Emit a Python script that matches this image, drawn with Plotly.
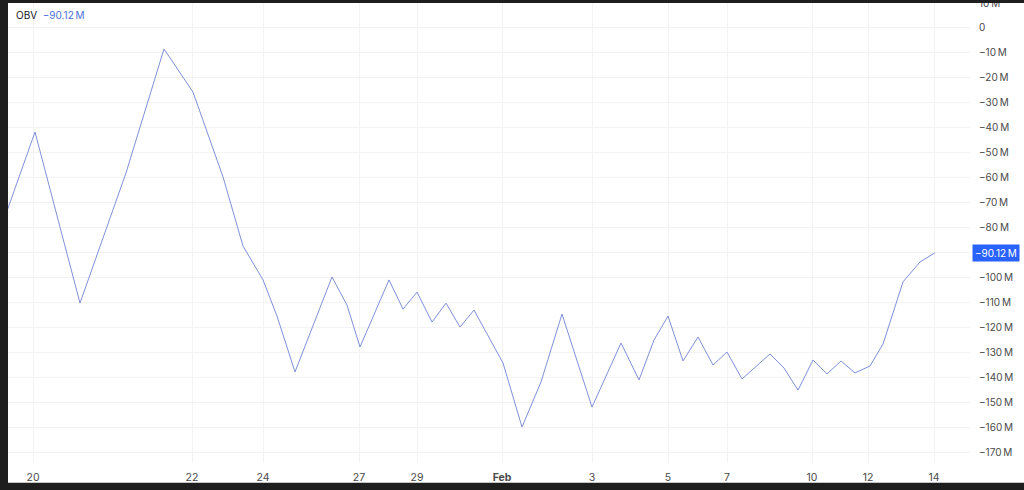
import plotly.graph_objects as go

# OBV series, bar position (session units) and value in millions
bar_pos = [-2, 0, 3.15, 6.37, 9.03, 11.06, 13.16, 14.56, 15.96, 16.94, 18.2,
           20.79, 21.84, 22.75, 24.78, 25.76, 26.74, 27.79, 28.77, 29.75, 30.73,
           32.76, 34.09, 35.42, 36.89, 38.99, 41.02, 42.28, 43.33, 44.31, 45.36,
           46.41, 47.46, 48.44, 49.49, 51.45, 52.43, 53.41, 54.46, 55.44, 56.42,
           57.4, 58.45, 59.36, 60.76, 61.95, 63]
obv_m = [-74.0, -41.7, -110.3, -58.1, -8.4, -25.7, -59.7, -87.4, -101.0, -115.5, -137.9,
         -99.8, -111.1, -127.9, -101.0, -112.7, -105.9, -117.9, -110.3, -119.9, -113.1,
         -134.3, -160.0, -141.9, -114.7, -152.0, -126.3, -141.1, -125.1, -115.5, -133.5,
         -123.9, -135.1, -129.9, -140.7, -130.7, -136.3, -145.2, -133.1, -138.7, -133.5,
         -138.3, -135.5, -126.7, -101.8, -93.8, -90.12]

x_tick_pos = [-0.14, 10.99, 15.96, 22.68, 26.74, 32.69, 38.99, 44.31, 48.44, 54.39, 58.31, 62.93]
x_tick_text = ["20", "22", "24", "27", "29", "<b>Feb</b>", "3", "5", "7", "10", "12", "14"]

y_tick_vals = list(range(10, -180, -10))
MINUS = "\u2212"


def fmt_m(v):
    if v == 0:
        return "0"
    s = f"{abs(v)}\u2009M"
    return (MINUS + s) if v < 0 else s


y_tick_text = [fmt_m(v) for v in y_tick_vals]

LINE_COLOR = "#8090d8"
LABEL_BLUE = "#4d6fd9"
LAST_VAL = obv_m[-1]
last_txt = f"{MINUS}{abs(LAST_VAL):.2f}\u2009M"

fig = go.Figure()
fig.add_trace(go.Scatter(
    x=bar_pos, y=obv_m, mode="lines",
    line=dict(color=LINE_COLOR, width=1),
    hoverinfo="skip", showlegend=False
))

fig.update_layout(
    width=1024, height=490,
    margin=dict(l=8, r=54, t=3, b=27),
    paper_bgcolor="white", plot_bgcolor="white",
    font=dict(family="Inter, Roboto, sans-serif", size=10, color="#3a3a3a"),
    xaxis=dict(
        range=[-1.89, 65.45], automargin=False,
        tickvals=x_tick_pos, ticktext=x_tick_text,
        showgrid=True, gridcolor="#f3f3f4", gridwidth=1,
        zeroline=False, showline=False,
        ticks="outside", ticklen=4, tickcolor="rgba(0,0,0,0)",
        tickfont=dict(size=10.5, color="#4a4a4a"),
    ),
    yaxis=dict(
        range=[-174.4, 10.02], side="right", automargin=False,
        tickvals=y_tick_vals, ticktext=y_tick_text,
        showgrid=True, gridcolor="#f3f3f4", gridwidth=1,
        zeroline=False, showline=False,
        ticks="outside", ticklen=6, tickcolor="rgba(0,0,0,0)",
        ticklabeloverflow="allow",
        tickfont=dict(size=10, color="#4a4a4a"),
    ),
    annotations=[
        dict(xref="paper", yref="paper", x=0, y=1, xanchor="left", yanchor="middle",
             xshift=6, yshift=-12, showarrow=False,
             text=f"OBV  <span style='color:{LABEL_BLUE}'>{last_txt}</span>",
             font=dict(size=10, color="#131722")),
        dict(xref="paper", yref="y", x=1, y=LAST_VAL, xanchor="left", yanchor="middle",
             xshift=2, showarrow=False, text=last_txt,
             bgcolor="#2962ff", borderpad=2,
             font=dict(size=10, color="white")),
    ],
    shapes=[
        # dark frame of the screenshot
        dict(type="rect", xref="paper", yref="paper", x0=-0.02, x1=0.0, y0=-0.1, y1=1.1,
             fillcolor="#1e1e1e", line=dict(width=0), layer="above"),
        dict(type="rect", xref="paper", yref="paper", x0=-0.02, x1=1.1, y0=1.0, y1=1.1,
             fillcolor="#1e1e1e", line=dict(width=0), layer="above"),
        dict(type="rect", xref="paper", yref="paper", x0=-0.02, x1=1.1, y0=-0.043, y1=-0.1,
             fillcolor="#1e1e1e", line=dict(width=0), layer="above"),
    ],
)

fig.write_html("out.html", config={"displayModeBar": False},
               post_script="document.body.style.margin='0';")
